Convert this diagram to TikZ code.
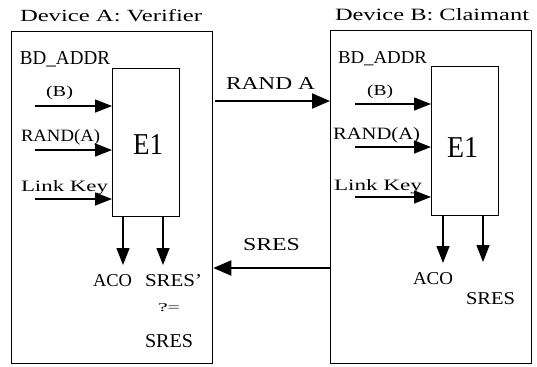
\documentclass[tikz,border=0pt]{standalone}
\usepackage{fontspec}
\setmainfont{Liberation Serif}
\usepackage{graphicx}
\usetikzlibrary{arrows.meta}
\newcommand{\rsz}[3]{\resizebox{#1bp}{#2bp}{#3}}
\begin{document}
\begin{tikzpicture}[x=1bp,y=-1bp,
  lbl/.style={anchor=base west,inner sep=0pt,outer sep=0pt},
  frame/.style={draw,line width=1.3bp,rectangle,inner sep=0pt,anchor=north west},
  arr/.style={line width=1.4bp,-{Triangle[length=17bp,width=13bp]}},
  bigarr/.style={line width=2bp,-{Triangle[length=18bp,width=15bp]}}]
\useasboundingbox (0,0) rectangle (537,366);
% outer boxes
\node[frame,minimum width=201bp,minimum height=332bp] (devA) at (11,31) {};
\node[frame,minimum width=201bp,minimum height=333bp] (devB) at (330,30) {};
% E1 boxes
\node[frame,minimum width=67bp,minimum height=148bp] (e1a) at (112,68) {};
\node[frame,minimum width=67bp,minimum height=149bp] (e1b) at (431,66) {};
% titles
\node[lbl] (tA) at (20,21) {\rsz{182}{12}{Device A: Verifier}};
\node[lbl] (tB) at (335,20) {\rsz{194}{12}{Device B: Claimant}};
% left labels
\node[lbl] (bdA) at (20,64) {\rsz{90}{13}{BD\_ADDR}};
\node[lbl] (bA) at (46,96) {\rsz{27}{10.5}{(B)}};
\node[lbl] (rnA) at (21,141) {\rsz{79}{12}{RAND(A)}};
\node[lbl] (lkA) at (21,191) {\rsz{87}{11}{Link Key}};
\node[lbl] (eA) at (133,154) {\rsz{30}{20}{E1}};
\node[lbl] (acoA) at (93,286) {\rsz{39}{12}{ACO}};
\node[lbl] (sresA) at (145,286) {\rsz{57}{12}{SRES'}};
\node[lbl] (qeq) at (158,311) {\rsz{22}{8}{?=}};
\node[lbl] (sresA2) at (145,347) {\rsz{48}{13}{SRES}};
% right labels
\node[lbl] (bdB) at (338,63) {\rsz{89}{12}{BD\_ADDR}};
\node[lbl] (bB) at (367,95) {\rsz{26}{10.5}{(B)}};
\node[lbl] (rnB) at (333,139) {\rsz{87}{12}{RAND(A)}};
\node[lbl] (lkB) at (334,190) {\rsz{88}{11}{Link Key}};
\node[lbl] (eB) at (447,157) {\rsz{31}{20}{E1}};
\node[lbl] (acoB) at (413,284) {\rsz{40}{12}{ACO}};
\node[lbl] (sresB) at (466,304) {\rsz{49}{12}{SRES}};
% middle labels
\node[lbl] (randA) at (226,89) {\rsz{89}{12}{RAND A}};
\node[lbl] (sresM) at (243,250) {\rsz{57}{12}{SRES}};
% input arrow start points
\coordinate (iA1) at (35,106);
\coordinate (iA2) at (35,150);
\coordinate (iA3) at (35,199);
\coordinate (iB1) at (355,104);
\coordinate (iB2) at (355,147);
\coordinate (iB3) at (355,197);
\draw[arr] (iA1) -- (iA1 -| e1a.west);
\draw[arr] (iA2) -- (iA2 -| e1a.west);
\draw[arr] (iA3) -- (iA3 -| e1a.west);
\draw[arr] (iB1) -- (iB1 -| e1b.west);
\draw[arr] (iB2) -- (iB2 -| e1b.west);
\draw[arr] (iB3) -- (iB3 -| e1b.west);
% output arrows
\coordinate (oA1) at (123,265);
\coordinate (oA2) at (163,265);
\coordinate (oB1) at (443,263);
\coordinate (oB2) at (483,262);
\draw[arr] (oA1 |- e1a.south) -- (oA1);
\draw[arr] (oA2 |- e1a.south) -- (oA2);
\draw[arr] (oB1 |- e1b.south) -- (oB1);
\draw[arr] (oB2 |- e1b.south) -- (oB2);
% middle arrows
\coordinate (mR) at (215,101);
\coordinate (mS) at (215,268);
\draw[bigarr] (mR) -- (mR -| devB.west);
\draw[bigarr] (mS -| devB.west) -- (mS -| devA.east);
\end{tikzpicture}
\end{document}
